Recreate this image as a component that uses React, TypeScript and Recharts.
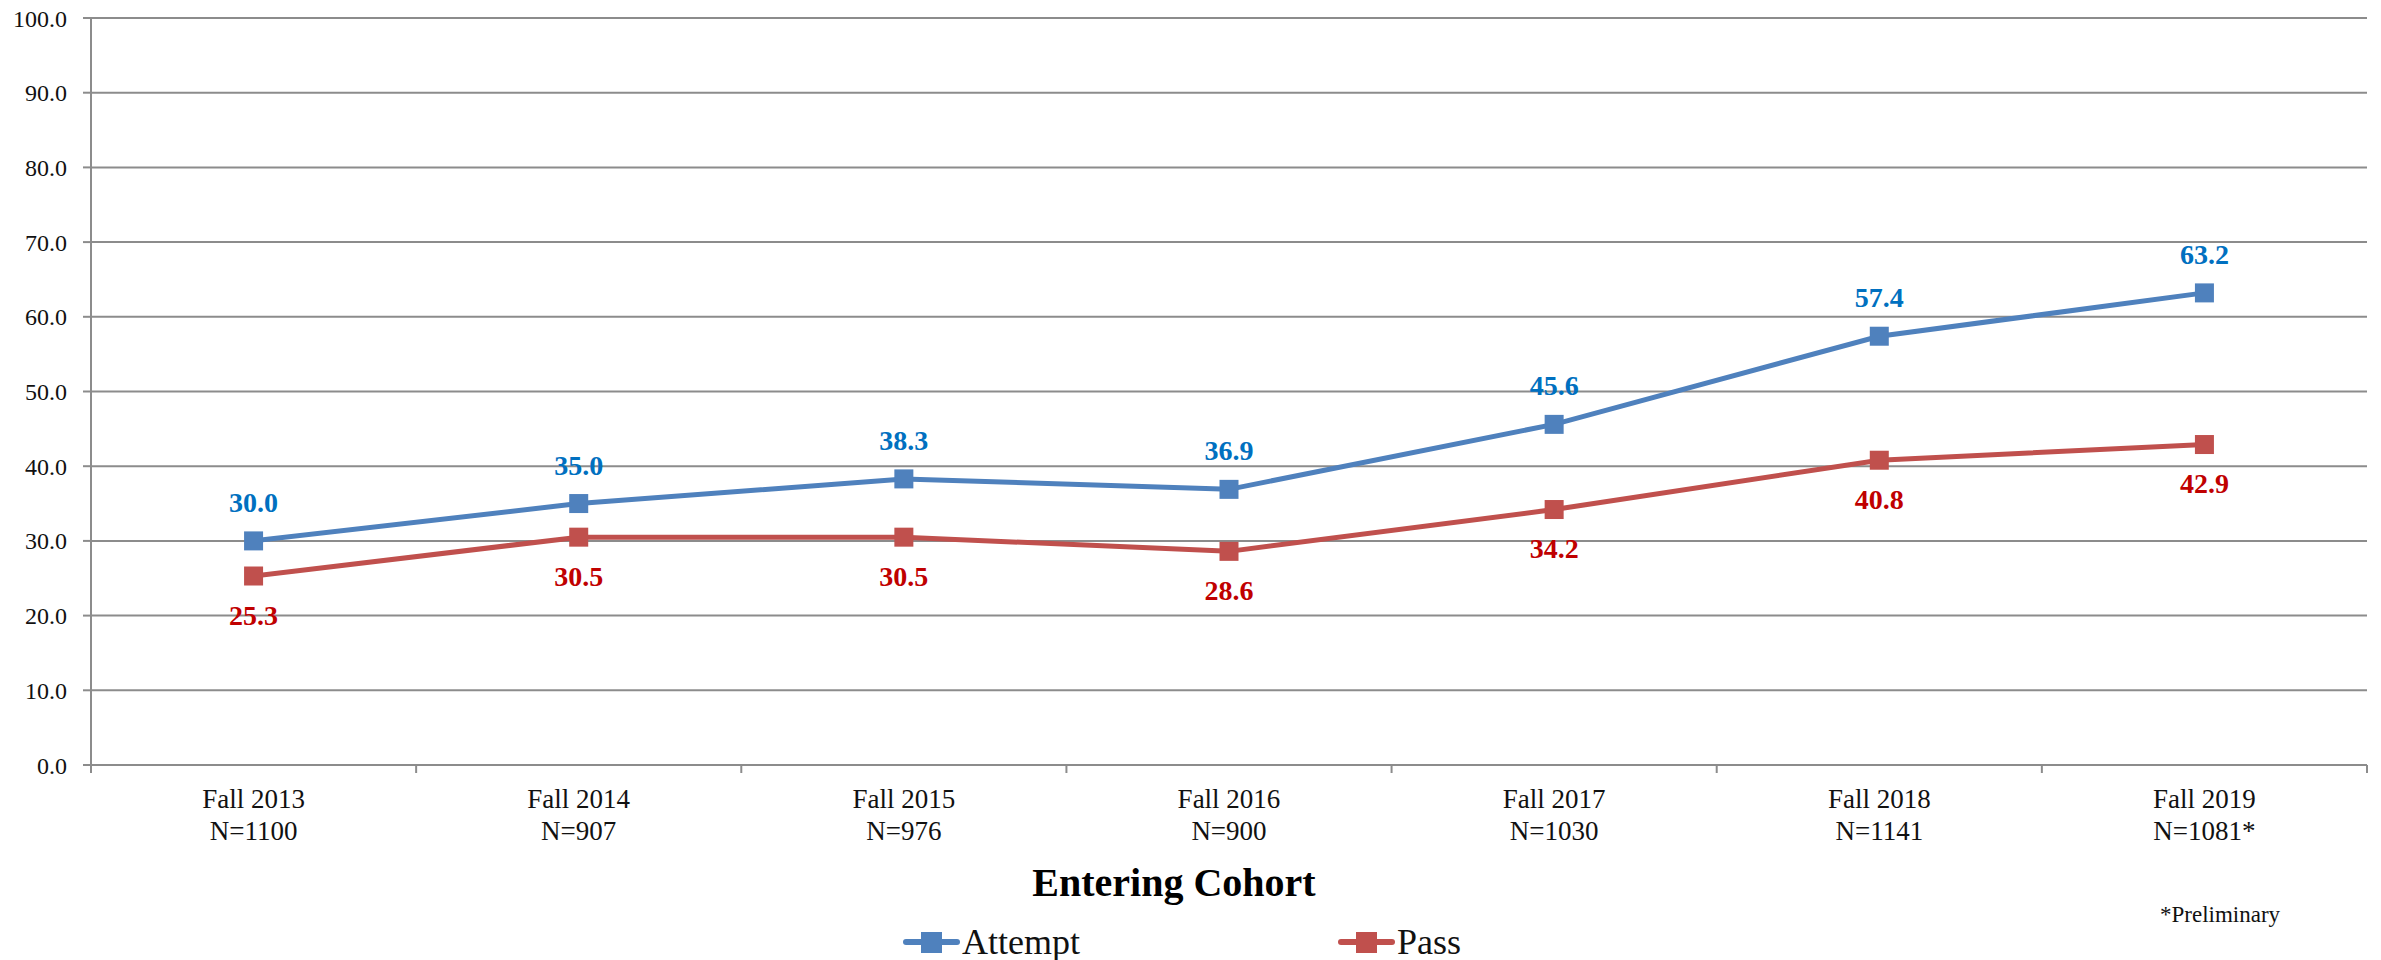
import { LineChart, Line, XAxis, YAxis, CartesianGrid, Legend, LabelList } from "recharts";

const categories = ["Fall 2013", "Fall 2014", "Fall 2015", "Fall 2016", "Fall 2017", "Fall 2018", "Fall 2019"];
const cohortN = ["N=1100", "N=907", "N=976", "N=900", "N=1030", "N=1141", "N=1081*"];
const attempt = [30.0, 35.0, 38.3, 36.9, 45.6, 57.4, 63.2];
const pass = [25.3, 30.5, 30.5, 28.6, 34.2, 40.8, 42.9];
const yTicks = [0, 10, 20, 30, 40, 50, 60, 70, 80, 90, 100];

const data = categories.map((c, i) => ({ cohort: c, n: cohortN[i], attempt: attempt[i], pass: pass[i] }));

const FONT = "'Liberation Serif', 'Times New Roman', serif";
const BLUE = "#4F81BD";
const RED = "#C0504D";
const GRID = "#8c8c8c";
const TICK_MARGIN = 25;

const square = (color: string) => (p: any) => (
  <rect key={`${color}-${p.index}`} x={p.cx - 9.5} y={p.cy - 9.5} width={19} height={19} fill={color} />
);

// category labels in two lines, with tick marks drawn at the band edges (Excel style)
const CohortTick = (props: any) => {
  const { x, y, payload, width, visibleTicksCount } = props;
  const idx = categories.indexOf(payload.value);
  const half = width / (visibleTicksCount || categories.length) / 2;
  const axisY = y - TICK_MARGIN;
  return (
    <g>
      <line x1={x - half} y1={axisY} x2={x - half} y2={axisY + 8} stroke={GRID} strokeWidth={2} />
      {idx === categories.length - 1 && (
        <line x1={x + half} y1={axisY} x2={x + half} y2={axisY + 8} stroke={GRID} strokeWidth={2} />
      )}
      <text x={x} y={y} textAnchor="middle" fontFamily={FONT} fontSize={27} fill="#111">
        <tspan x={x} dy={18}>{payload.value}</tspan>
        <tspan x={x} dy={32}>{cohortN[idx]}</tspan>
      </text>
    </g>
  );
};

const LegendBox = (props: any) => {
  const items = props.payload || [];
  const lefts = [903, 1338];
  return (
    <div style={{ position: "relative", width: 2381, height: 40, fontFamily: FONT }}>
      {items.map((it: any, i: number) => (
        <div key={it.value} style={{ position: "absolute", left: lefts[i], top: 0, display: "flex", alignItems: "center", height: 44 }}>
          <svg width={57} height={24}>
            <line x1={3} y1={12} x2={54} y2={12} stroke={it.color} strokeWidth={6} strokeLinecap="round" />
            <rect x={18} y={2} width={21} height={21} fill={it.color} />
          </svg>
          <span style={{ fontSize: 36, color: "#111", marginLeft: 2, lineHeight: "44px" }}>{it.value}</span>
        </div>
      ))}
      <div style={{ position: "absolute", left: 2160, top: -18, fontSize: 23, color: "#111" }}>*Preliminary</div>
    </div>
  );
};

export default function App() {
  return (
    <div style={{ position: "absolute", left: 0, top: 0, width: 2381, height: 960, background: "#fff" }}>
      <LineChart width={2381} height={960} data={data} margin={{ top: 18, right: 14, bottom: 0, left: 0 }}>
        <CartesianGrid vertical={false} stroke={GRID} strokeWidth={2} />
        <XAxis
          dataKey="cohort"
          scale="band"
          tick={<CohortTick />}
          tickLine={false}
          tickSize={0}
          tickMargin={TICK_MARGIN}
          axisLine={{ stroke: GRID, strokeWidth: 2 }}
          height={155}
          interval={0}
          label={() => (
            <text x={1174} y={896} textAnchor="middle" fontFamily={FONT} fontSize={40} fontWeight="bold" fill="#000">
              Entering Cohort
            </text>
          )}
        />
        <YAxis
          width={91}
          domain={[0, 100]}
          ticks={yTicks}
          tickFormatter={(v: number) => v.toFixed(1)}
          tick={{ fontFamily: FONT, fontSize: 24, fill: "#111" }}
          tickSize={8}
          tickMargin={16}
          tickLine={{ stroke: GRID, strokeWidth: 2 }}
          axisLine={{ stroke: GRID, strokeWidth: 2 }}
        />
        <Legend verticalAlign="bottom" content={<LegendBox />} wrapperStyle={{ left: 0, width: 2381, height: 40 }} />
        <Line
          dataKey="attempt"
          name="Attempt"
          stroke={BLUE}
          strokeWidth={5}
          dot={square(BLUE)}
          activeDot={false}
          isAnimationActive={false}
        >
          <LabelList
            dataKey="attempt"
            position="top"
            offset={29}
            formatter={(v: number) => v.toFixed(1)}
            style={{ fontFamily: FONT, fontSize: 28, fontWeight: "bold", fill: "#0070C0" }}
          />
        </Line>
        <Line
          dataKey="pass"
          name="Pass"
          stroke={RED}
          strokeWidth={5}
          dot={square(RED)}
          activeDot={false}
          isAnimationActive={false}
        >
          <LabelList
            dataKey="pass"
            position="bottom"
            offset={29}
            formatter={(v: number) => v.toFixed(1)}
            style={{ fontFamily: FONT, fontSize: 28, fontWeight: "bold", fill: "#C00000" }}
          />
        </Line>
      </LineChart>
    </div>
  );
}
